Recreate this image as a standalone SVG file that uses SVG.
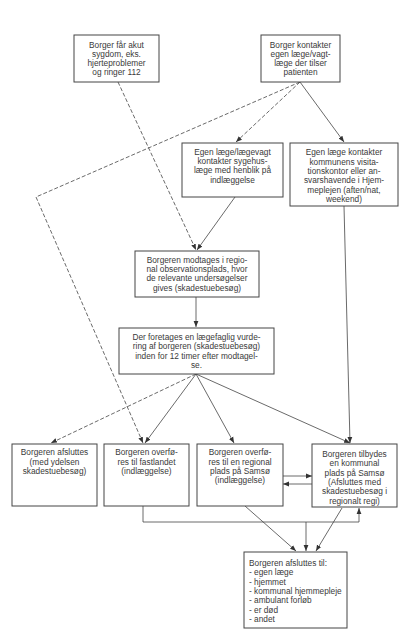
<svg xmlns="http://www.w3.org/2000/svg" width="420" height="642" viewBox="0 0 420 642">
<style>
.box{fill:#fff;stroke:#444;stroke-width:1}
.t{font-family:"Liberation Sans",Arial,sans-serif;font-size:8.3px;fill:#3a3a3a;text-anchor:middle}
.tl{font-family:"Liberation Sans",Arial,sans-serif;font-size:8.3px;fill:#3a3a3a}
.c{fill:none;stroke:#444;stroke-width:0.8}
.d{fill:none;stroke:#444;stroke-width:0.8;stroke-dasharray:4 2}
</style>
<defs>
<marker id="a" viewBox="0 0 10 10" refX="10" refY="5" markerWidth="6" markerHeight="6" orient="auto" markerUnits="userSpaceOnUse">
<path d="M0,1 L10,5 L0,9 Z" fill="#333"/>
</marker>
</defs>
<rect width="420" height="642" fill="#fff"/>
<g id="connectors">
<path class="d" d="M118,82 L196,250" marker-end="url(#a)"/>
<path class="c" d="M235,197 L197,250" marker-end="url(#a)"/>
<path class="d" d="M300,82 L36,197 L143,443" marker-end="url(#a)"/>
<path class="d" d="M300,82 L236,142" marker-end="url(#a)"/>
<path class="c" d="M300,82 L344,142" marker-end="url(#a)"/>
<path class="c" d="M344,206 L350,443" marker-end="url(#a)"/>
<path class="c" d="M196,297 L196,327" marker-end="url(#a)"/>
<path class="d" d="M196,374 L51,443" marker-end="url(#a)"/>
<path class="c" d="M196,374 L145,443" marker-end="url(#a)"/>
<path class="c" d="M196,374 L234,443" marker-end="url(#a)"/>
<path class="c" d="M196,374 L350,443" marker-end="url(#a)"/>
<path class="c" d="M283,476 L312,476" marker-end="url(#a)"/>
<path class="c" d="M312,484 L283,484" marker-end="url(#a)"/>
<path class="c" d="M143,506 L143,522 L359,522 L359,508" marker-end="url(#a)"/>
<path class="c" d="M306,522 L306,551" marker-end="url(#a)"/>
<path class="c" d="M245,506 L296,551" marker-end="url(#a)"/>
<path class="c" d="M342,508 L316,551" marker-end="url(#a)"/>
</g>
<g id="n1">
<rect class="box" x="74" y="35" width="85" height="47"/>
<text class="t" x="116.5" y="48">Borger får akut</text>
<text class="t" x="116.5" y="57">sygdom, eks.</text>
<text class="t" x="116.5" y="66">hjerteproblemer</text>
<text class="t" x="116.5" y="75">og ringer 112</text>
</g>
<g id="n2">
<rect class="box" x="261" y="35" width="79" height="47"/>
<text class="t" x="300.5" y="48">Borger kontakter</text>
<text class="t" x="300.5" y="57">egen læge/vagt-</text>
<text class="t" x="300.5" y="66">læge der tilser</text>
<text class="t" x="300.5" y="75">patienten</text>
</g>
<g id="n3">
<rect class="box" x="182" y="143" width="101" height="54"/>
<text class="t" x="232.5" y="155">Egen læge/lægevagt</text>
<text class="t" x="232.5" y="164">kontakter sygehus-</text>
<text class="t" x="232.5" y="173">læge med henblik på</text>
<text class="t" x="232.5" y="183">indlæggelse</text>
</g>
<g id="n4">
<rect class="box" x="290" y="143" width="108" height="63"/>
<text class="t" x="344" y="155">Egen læge kontakter</text>
<text class="t" x="344" y="165">kommunens visita-</text>
<text class="t" x="344" y="174">tionskontor eller an-</text>
<text class="t" x="344" y="183">svarshavende i Hjem-</text>
<text class="t" x="344" y="193">meplejen (aften/nat,</text>
<text class="t" x="344" y="202">weekend)</text>
</g>
<g id="n5">
<rect class="box" x="135" y="251" width="124" height="46"/>
<text class="t" x="197" y="263">Borgeren modtages i regio-</text>
<text class="t" x="197" y="272">nal observationsplads, hvor</text>
<text class="t" x="197" y="281">de relevante undersøgelser</text>
<text class="t" x="197" y="291">gives (skadestuebesøg)</text>
</g>
<g id="n6">
<rect class="box" x="119" y="328" width="155" height="46"/>
<text class="t" x="196.5" y="340">Der foretages en lægefaglig vurde-</text>
<text class="t" x="196.5" y="349">ring af borgeren (skadestuebesøg)</text>
<text class="t" x="196.5" y="359">inden for 12 timer efter modtagel-</text>
<text class="t" x="196.5" y="368">se.</text>
</g>
<g id="n7">
<rect class="box" x="12" y="444" width="85" height="62"/>
<text class="t" x="54.5" y="455">Borgeren afsluttes</text>
<text class="t" x="54.5" y="465">(med ydelsen</text>
<text class="t" x="54.5" y="474">skadestuebesøg)</text>
</g>
<g id="n8">
<rect class="box" x="104" y="444" width="85" height="62"/>
<text class="t" x="146.5" y="455">Borgeren overfø-</text>
<text class="t" x="146.5" y="465">res til fastlandet</text>
<text class="t" x="146.5" y="474">(indlæggelse)</text>
</g>
<g id="n9">
<rect class="box" x="197" y="444" width="86" height="62"/>
<text class="t" x="240" y="455">Borgeren overfø-</text>
<text class="t" x="240" y="465">res til en regional</text>
<text class="t" x="240" y="474">plads på Samsø</text>
<text class="t" x="240" y="483">(indlæggelse)</text>
</g>
<g id="n10">
<rect class="box" x="312" y="444" width="85" height="63"/>
<text class="t" x="354.5" y="457">Borgeren tilbydes</text>
<text class="t" x="354.5" y="466">en kommunal</text>
<text class="t" x="354.5" y="476">plads på Samsø</text>
<text class="t" x="354.5" y="485">(Afsluttes med</text>
<text class="t" x="354.5" y="494">skadestuebesøg i</text>
<text class="t" x="354.5" y="504">regionalt regi)</text>
</g>
<g id="n11">
<rect class="box" x="244" y="552" width="103" height="76"/>
<text class="tl" x="249" y="566">Borgeren afsluttes til:</text>
<text class="tl" x="249" y="575">- egen læge</text>
<text class="tl" x="249" y="585">- hjemmet</text>
<text class="tl" x="249" y="594">- kommunal hjemmepleje</text>
<text class="tl" x="249" y="603">- ambulant forløb</text>
<text class="tl" x="249" y="613">- er død</text>
<text class="tl" x="249" y="622">- andet</text>
</g>
</svg>
